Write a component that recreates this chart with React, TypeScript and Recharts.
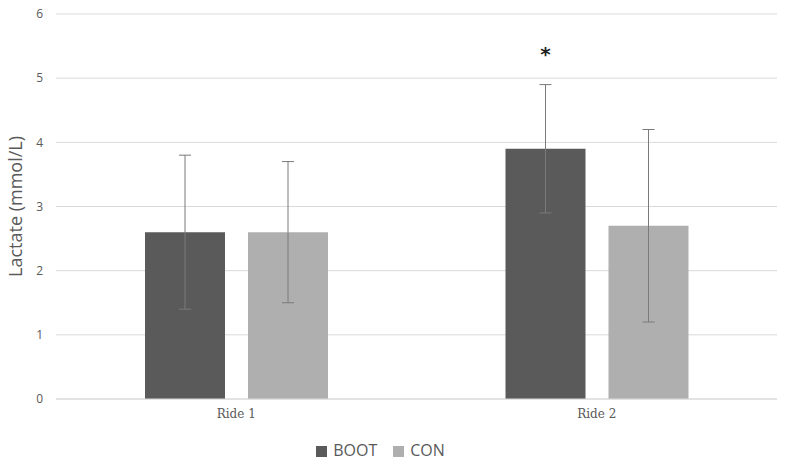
import {
  BarChart,
  Bar,
  CartesianGrid,
  XAxis,
  YAxis,
  Legend,
  ErrorBar,
} from "recharts";

const categories = ["Ride 1", "Ride 2"];
const bootValues = [2.6, 3.9];
const bootErrors = [1.2, 1.0];
const conValues = [2.6, 2.7];
const conErrors = [1.1, 1.5];
// level (mmol/L) at which a significance marker sits above BOOT, null if none
const sigLevels: Array<number | null> = [null, 5.45];
const yTicks = [0, 1, 2, 3, 4, 5, 6];

const data = categories.map((ride, i) => ({
  ride,
  BOOT: bootValues[i],
  bootErr: bootErrors[i],
  CON: conValues[i],
  conErr: conErrors[i],
}));

const FONT = "'Open Sans', Lato, sans-serif";
const TEXT = "#595959";

function SigLabel(props: any) {
  const { x, y, width, height, value, index } = props;
  const level = sigLevels[index];
  if (level == null || !value) return null;
  const pxPerUnit = height / value;
  const ty = y + height - level * pxPerUnit;
  return (
    <text
      x={x + width / 2}
      y={ty + 5}
      textAnchor="middle"
      dominantBaseline="central"
      fontSize={20}
      fontWeight="bold"
      fill="#222"
      fontFamily="'DejaVu Sans', sans-serif"
    >
      *
    </text>
  );
}

export default function App() {
  return (
    <div style={{ width: 788, height: 468, background: "#fff" }}>
      <style>{`body{margin:0}`}</style>
      <BarChart
        width={788}
        height={468}
        data={data}
        margin={{ top: 14, right: 11, left: 0, bottom: 0 }}
        barGap={23}
        barSize={80}
      >
        <CartesianGrid stroke="#d9d9d9" vertical={false} />
        <XAxis
          dataKey="ride"
          height={30}
          axisLine={{ stroke: "#d9d9d9" }}
          tickLine={false}
          tickMargin={4}
          tick={{ fill: TEXT, fontSize: 12, fontFamily: "'DejaVu Serif', serif" }}
        />
        <YAxis
          width={56}
          domain={[0, 6]}
          ticks={yTicks}
          axisLine={false}
          tickLine={false}
          tickMargin={7}
          tick={{ fill: TEXT, fontSize: 12, fontFamily: FONT }}
          label={{
            value: "Lactate (mmol/L)",
            angle: -90,
            position: "insideLeft",
            offset: 16,
            style: {
              fill: TEXT,
              fontSize: 18,
              fontFamily: FONT,
              textAnchor: "middle",
            },
          }}
        />
        <Legend
          verticalAlign="bottom"
          height={39}
          iconType="square"
          iconSize={11}
          wrapperStyle={{ fontFamily: FONT, fontSize: 16, bottom: -10 }}
          formatter={(v) => (
            <span style={{ color: TEXT, padding: "0 6px 0 2px" }}>{v}</span>
          )}
        />
        <Bar
          dataKey="BOOT"
          fill="#5a5a5a"
          isAnimationActive={false}
          label={<SigLabel />}
        >
          <ErrorBar
            dataKey="bootErr"
            width={6}
            stroke="#7a7a7a"
            strokeWidth={1}
            direction="y"
          />
        </Bar>
        <Bar dataKey="CON" fill="#afafaf" isAnimationActive={false}>
          <ErrorBar
            dataKey="conErr"
            width={6}
            stroke="#7a7a7a"
            strokeWidth={1}
            direction="y"
          />
        </Bar>
      </BarChart>
    </div>
  );
}
